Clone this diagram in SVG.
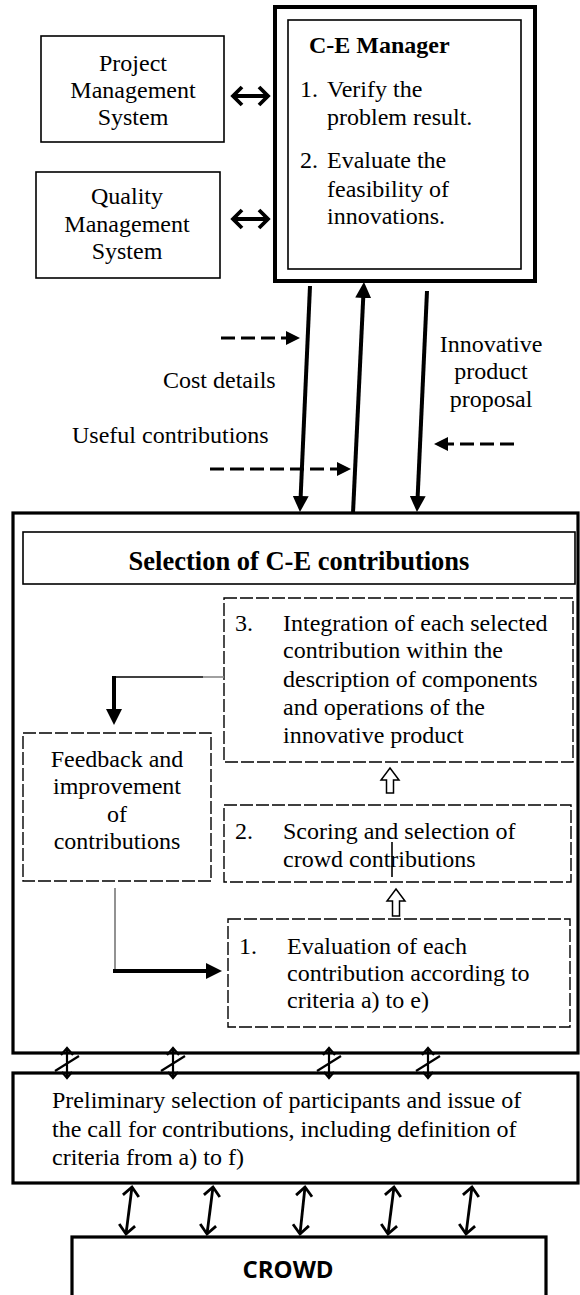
<svg xmlns="http://www.w3.org/2000/svg" xmlns:xlink="http://www.w3.org/1999/xlink" width="580" height="1295" viewBox="0 0 580 1295">
<style>
.t{font-family:"Liberation Serif","Times New Roman",serif;font-size:24px;fill:#000}
.b{font-weight:bold}
.c{text-anchor:middle}
.box{fill:#fff;stroke:#000;stroke-width:1.6}
.thick{fill:none;stroke:#000;stroke-width:3.2}
.dbox{fill:#fff;stroke:#000;stroke-width:1.4;stroke-dasharray:13 3}
.arr{fill:none;stroke:#000;stroke-width:4}
.darr{fill:none;stroke:#000;stroke-width:3;stroke-dasharray:14 6}
.thin{fill:none;stroke:#000;stroke-width:1.6}
.hollow{fill:#fff;stroke:#000;stroke-width:1.5}
.dbl{fill:none;stroke:#000;stroke-width:4}
.cr{fill:none;stroke:#000;stroke-width:2.8}
.xm{fill:none;stroke:#000;stroke-width:2.2}
</style>
<defs>
<marker id="ah" markerUnits="userSpaceOnUse" viewBox="0 0 16 16" markerWidth="16" markerHeight="16" refX="4" refY="8" orient="auto"><path d="M0,0 L16,8 L0,16 Z" fill="#000"/></marker>
<marker id="ahd" markerUnits="userSpaceOnUse" viewBox="0 0 14 14" markerWidth="14" markerHeight="14" refX="3" refY="7" orient="auto"><path d="M0,0 L14,7 L0,14 Z" fill="#000"/></marker>
<marker id="chev" markerUnits="userSpaceOnUse" viewBox="0 0 14 22" markerWidth="14" markerHeight="22" refX="11" refY="11" orient="auto-start-reverse" overflow="visible"><path d="M2,2 L11,11 L2,20" fill="none" stroke="#000" stroke-width="3.8"/></marker>
<marker id="chev2" markerUnits="userSpaceOnUse" viewBox="0 0 12 18" markerWidth="12" markerHeight="18" refX="10" refY="9" orient="auto-start-reverse" overflow="visible"><path d="M1,1 L10,9 L1,17" fill="none" stroke="#000" stroke-width="2.8"/></marker>
<g id="xmark"><path class="xm" d="M0,-15 V15 M-12,8 L12,-7 M-6,-8 L0,-15 L6,-8 M-5,9 L0,15 L5,9"/></g>
</defs>

<g id="pms">
<rect class="box" x="41" y="36" width="183" height="106"/>
<text class="t c" x="133" y="71">Project</text>
<text class="t c" x="133" y="98">Management</text>
<text class="t c" x="133" y="125">System</text>
</g>

<g id="qms">
<rect class="box" x="36" y="172" width="184" height="106"/>
<text class="t c" x="127" y="204">Quality</text>
<text class="t c" x="127" y="232">Management</text>
<text class="t c" x="127" y="259">System</text>
</g>

<g id="ce-manager">
<rect x="275" y="7" width="260" height="274" fill="#fff" stroke="#000" stroke-width="4"/>
<rect class="box" x="288" y="20" width="233" height="249"/>
<text class="t b" x="309" y="53">C-E Manager</text>
<text class="t" x="300" y="97">1.</text>
<text class="t" x="327" y="97">Verify the</text>
<text class="t" x="327" y="125">problem result.</text>
<text class="t" x="300" y="168">2.</text>
<text class="t" x="327" y="168">Evaluate the</text>
<text class="t" x="327" y="197">feasibility of</text>
<text class="t" x="327" y="224">innovations.</text>
</g>

<g id="selection">
<rect class="thick" x="13" y="513" width="565" height="540"/>
<rect class="box" x="23" y="532" width="552" height="52"/>
<text class="t b c" x="299" y="570" style="font-size:26.5px">Selection of C-E contributions</text>
</g>

<g id="step3">
<rect class="dbox" x="224" y="598" width="349" height="164"/>
<text class="t" x="235" y="631">3.</text>
<text class="t" x="283" y="631">Integration of each selected</text>
<text class="t" x="283" y="658">contribution within the</text>
<text class="t" x="283" y="687">description of components</text>
<text class="t" x="283" y="715">and operations of the</text>
<text class="t" x="283" y="743">innovative product</text>
</g>

<g id="feedback">
<rect class="dbox" x="23" y="733" width="188" height="148"/>
<text class="t c" x="117" y="767">Feedback and</text>
<text class="t c" x="117" y="794">improvement</text>
<text class="t c" x="117" y="822">of</text>
<text class="t c" x="117" y="849">contributions</text>
</g>

<g id="step2">
<rect class="dbox" x="224" y="805" width="347" height="77"/>
<text class="t" x="235" y="839">2.</text>
<text class="t" x="283" y="839">Scoring and selection of</text>
<text class="t" x="283" y="867">crowd contributions</text>
</g>

<g id="step1">
<rect class="dbox" x="228" y="919" width="342" height="108"/>
<text class="t" x="239" y="954">1.</text>
<text class="t" x="287" y="954">Evaluation of each</text>
<text class="t" x="287" y="981">contribution according to</text>
<text class="t" x="287" y="1008">criteria a) to e)</text>
</g>

<g id="preliminary">
<rect class="thick" x="13" y="1073" width="565" height="110"/>
<text class="t" x="52" y="1108">Preliminary selection of participants and issue of</text>
<text class="t" x="52" y="1137">the call for contributions, including definition of</text>
<text class="t" x="52" y="1165">criteria from a) to f)</text>
</g>

<g id="crowd">
<rect class="thick" x="72" y="1237" width="474" height="70"/>
<text x="288" y="1278" text-anchor="middle" style="font-family:'Open Sans','DejaVu Sans',sans-serif;font-weight:bold;font-size:24px">CROWD</text>
</g>

<g id="labels">
<text class="t" x="163" y="388">Cost details</text>
<text class="t" x="72" y="443">Useful contributions</text>
<text class="t c" x="491" y="352">Innovative</text>
<text class="t c" x="491" y="379">product</text>
<text class="t c" x="491" y="407">proposal</text>
</g>

<g id="connectors">
<line class="dbl" x1="233" y1="96" x2="268" y2="96" marker-start="url(#chev)" marker-end="url(#chev)"/>
<line class="dbl" x1="233" y1="219" x2="268" y2="219" marker-start="url(#chev)" marker-end="url(#chev)"/>
<line class="arr" x1="310" y1="286" x2="300.5" y2="500" marker-end="url(#ah)"/>
<line class="arr" x1="353" y1="513" x2="363.4" y2="294" marker-end="url(#ah)"/>
<line class="arr" x1="427" y1="291" x2="417.5" y2="500" marker-end="url(#ah)"/>
<line class="darr" x1="221" y1="338" x2="289" y2="338" marker-end="url(#ahd)"/>
<line class="darr" x1="210" y1="469" x2="340" y2="469" marker-end="url(#ahd)"/>
<line class="darr" x1="514" y1="444" x2="445" y2="444" marker-end="url(#ahd)"/>
<path d="M224,677 H203" stroke="#888" stroke-width="1.6" fill="none"/>
<path class="thin" d="M203,677 H114"/>
<line class="arr" x1="114" y1="676" x2="114" y2="713" marker-end="url(#ah)"/>
<path d="M115,888 V971" stroke="#777" stroke-width="1.6" fill="none"/>
<line class="arr" x1="113" y1="971" x2="210" y2="971" marker-end="url(#ah)"/>
<polygon class="hollow" points="390,768 399,780 393.5,780 393.5,793 386.5,793 386.5,780 381,780"/>
<polygon class="hollow" points="396,889 405,901 399.5,901 399.5,916 392.5,916 392.5,901 387,901"/>
<line class="thin" x1="392" y1="842" x2="392" y2="877"/>
<use xlink:href="#xmark" x="67" y="1063"/>
<use xlink:href="#xmark" x="173" y="1063"/>
<use xlink:href="#xmark" x="329" y="1063"/>
<use xlink:href="#xmark" x="428" y="1063"/>
<line class="cr" x1="132" y1="1187" x2="126" y2="1234" marker-start="url(#chev2)" marker-end="url(#chev2)"/>
<line class="cr" x1="213" y1="1187" x2="207" y2="1234" marker-start="url(#chev2)" marker-end="url(#chev2)"/>
<line class="cr" x1="305" y1="1187" x2="300" y2="1234" marker-start="url(#chev2)" marker-end="url(#chev2)"/>
<line class="cr" x1="394" y1="1187" x2="388" y2="1234" marker-start="url(#chev2)" marker-end="url(#chev2)"/>
<line class="cr" x1="472" y1="1187" x2="466" y2="1234" marker-start="url(#chev2)" marker-end="url(#chev2)"/>
</g>
</svg>
